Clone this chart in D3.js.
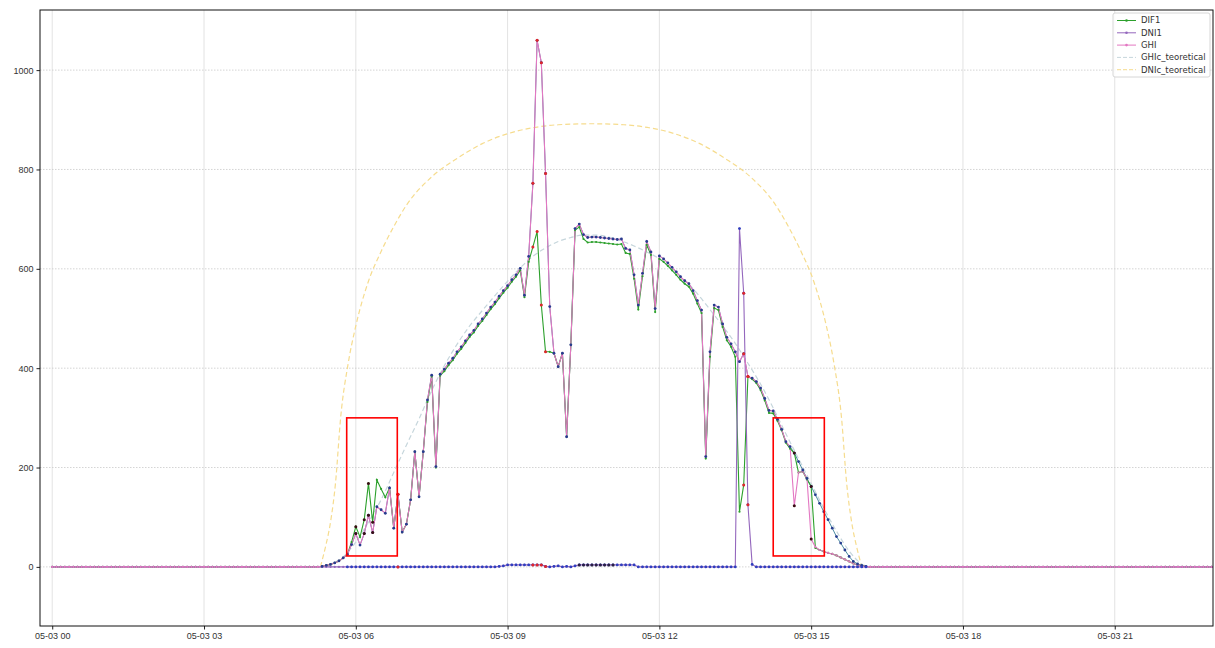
<!DOCTYPE html>
<html>
<meta charset="utf-8">
<style>
  body { margin: 0; background: #fff; }
  svg { font-family: "DejaVu Sans", sans-serif; }
  .grid .gy { stroke: #c9c9c9; stroke-width: 0.8; stroke-dasharray: 1.5,1.5; }
  .grid .gx { stroke: #dcdcdc; stroke-width: 0.8; }
  .axis text { font-size: 9px; fill: #333; }
  .axis line, .axis path { stroke: #222; }
</style>
<body>
<script src="https://d3js.org/d3.v7.min.js"></script>
<script>
  // one sample every 5 minutes from 05:00 (index 0) to 16:40; all sensors read 0 outside
  let dayStartHour = 5;
  let stepMin = 5;

  let ghi = [
    0, 0, 0, 0, 1, 3, 5, 8, 12, 18, 25, 45,
    67, 44, 67, 104, 69, 121, 115, 108, 159,
    78, 146, 70, 86, 135, 232, 141, 232, 336, 386, 202, 388,
    398, 410, 420, 433, 443, 455, 467, 476, 489, 499, 511, 523, 533, 545, 556, 566, 578, 588, 601,
    547, 625, 772, 1060, 1015, 792, 524,
    430, 403, 430, 262, 447, 681, 690, 669,
    663, 664, 664, 663, 662, 661, 660, 659, 660,
    641, 638, 588, 527, 591, 655, 634, 520, 626, 620, 612, 603, 594, 584, 576, 570, 556, 536, 517, 222,
    433, 527, 523, 489, 462, 449, 433, 413, 429, 383, 380, 373, 360, 339, 315, 314, 297, 277,
    252, 242, 123, 190, 192, 178, 56, 40, 34, 31, 28, 26, 23, 19, 15, 11, 7, 4, 2, 1, 0,
    0, 0, 0, 0, 0, 0
  ];

  let dif1 = [
    0, 0, 0, 0, 1, 3, 5, 8, 12, 18, 25, 50,
    81, 60, 95, 168, 90, 175, 157, 140, 159,
    78, 146, 70, 86, 135, 232, 141, 232, 332, 383, 200, 385,
    394, 406, 416, 429, 439, 451, 463, 472, 485, 495, 507, 519, 529, 541, 552, 562, 574, 584, 597,
    543, 614, 644, 675, 527, 433, 433,
    430, 403, 430, 262, 447, 678, 684, 660,
    653, 654, 654, 653, 652, 651, 650, 649, 650,
    632, 630, 580, 518, 585, 648, 628, 513, 620, 614, 606, 597, 588, 578, 570, 564, 550, 530, 511, 218,
    423, 521, 517, 483, 456, 443, 423, 111, 165, 383, 378, 370, 356, 335, 310, 309, 294, 275,
    250, 238, 229, 190, 192, 176, 162, 38, 34, 31, 28, 26, 23, 19, 15, 11, 7, 4, 2, 1, 0,
    0, 0, 0, 0, 0, 0
  ];

  let dni1 = [
    0, 0, 0, 0, 0, 0, 0, 0, 0, 0, 0, 0,
    0, 0, 0, 0, 0, 0, 0, 0, 0,
    0, 0, 0, 0, 0, 0, 0, 0, 0, 0, 0, 0,
    0, 0, 0, 0, 0, 0, 0, 0, 0, 0, 0, 0, 0, 1, 2, 4, 4, 4, 4,
    4, 4, 4, 4, 4, 1, 0,
    1, 2, 0, 1, 0, 2, 4, 4,
    4, 4, 4, 4, 4, 4, 4, 4, 4,
    4, 4, 4, 0, 0, 0, 0, 0, 0, 0, 0, 0, 0, 0, 0, 0, 0, 0, 0, 0,
    0, 0, 0, 0, 0, 0, 0, 681, 551, 125, 5, 0, 0, 0, 0, 0, 0, 0,
    0, 0, 0, 0, 0, 0, 0, 0, 0, 0, 0, 0, 0, 0, 0, 0, 0, 0, 0, 0, 0,
    0, 0, 0, 0, 0, 0
  ];

  // checked GHI (blue dots): same as GHI except from sample 114 (14:30) on
  let ghiFillStart = 114;
  let ghiFill = [252, 242, 229, 212, 195, 178, 162, 145, 128, 111, 95, 78, 61, 48, 34, 21, 11, 6, 3, 1, 0];

  // quality flags (sample indexes)
  let redFlags = [22, 54, 55, 56, 57, 104, 105];
  let darkFlags = [12, 14, 15, 16, 116, 120];
  let darkDniFlags = [65, 66, 67, 68, 69, 70, 71, 72, 73];

  // theoretical clear sky curves, hour of day -> W/m2
  let ghicHours = [5.3, 5.5, 5.75, 6, 6.25, 6.5, 6.75, 7, 7.25, 7.5, 7.75, 8, 8.25, 8.5, 8.75, 9, 9.25, 9.5, 9.75, 10,
    10.25, 10.5, 10.75, 11, 11.25, 11.5, 11.75, 12, 12.25, 12.5, 12.75, 13, 13.25, 13.5, 13.75, 14, 14.25, 14.5,
    14.75, 15, 15.25, 15.5, 15.75, 16, 16.15];
  let ghicValues = [0, 6, 20, 50, 90, 135, 190, 245, 298, 355, 405, 448, 485, 516, 546, 575, 602, 625, 642, 655,
    663, 668, 668, 664, 656, 646, 634, 620, 600, 578, 550, 518, 485, 450, 410, 368, 320, 268,
    218, 168, 118, 72, 32, 6, 0];

  let dnicHours = [5.3, 5.4, 5.5, 5.6, 5.7, 5.85, 6, 6.25, 6.5, 6.75, 7, 7.5, 8, 8.5, 9, 9.5, 10, 10.65,
    11.3, 11.8, 12.3, 12.8, 13.3, 13.8, 14.3, 14.55, 14.8, 15.05, 15.3, 15.45, 15.6, 15.7, 15.8, 15.9, 16];
  let dnicValues = [0, 40, 90, 170, 300, 410, 485, 575, 635, 685, 728, 785, 822, 852, 872, 884, 890, 892,
    890, 884, 872, 852, 822, 785, 728, 685, 635, 575, 485, 410, 300, 170, 90, 40, 0];

  // highlighted periods (hours) and value band
  let boxHours = [[5.82, 6.82], [14.25, 15.26]];
  let boxValues = [22, 300];

  let yTicks = [0, 200, 400, 600, 800, 1000];
  let xTickHours = [0, 3, 6, 9, 12, 15, 18, 21];

  let width = 1215, height = 648;
  let day0 = new Date(2021, 4, 3);
  let atHour = h => new Date(day0.getTime() + h * 3600e3);

  let x = d3.scaleTime()
    .domain([atHour(-0.2417), atHour(22.942)])
    .range([40, 1213]);
  let y = d3.scaleLinear()
    .domain([-119, 1121])
    .range([626, 10]);

  let svg = d3.select("body").append("svg")
    .attr("width", width)
    .attr("height", height);

  svg.append("defs").append("clipPath").attr("id", "plot")
    .append("rect").attr("x", 40).attr("y", 10).attr("width", 1173).attr("height", 616);

  // grid
  let grid = svg.append("g").attr("class", "grid");
  grid.selectAll(".gx").data(xTickHours).join("line").attr("class", "gx")
    .attr("x1", d => x(atHour(d))).attr("x2", d => x(atHour(d)))
    .attr("y1", 10).attr("y2", 626);
  grid.selectAll(".gy").data(yTicks).join("line").attr("class", "gy")
    .attr("x1", 40).attr("x2", 1213)
    .attr("y1", d => y(d)).attr("y2", d => y(d));

  // build the full day of samples (night = 0)
  let first = dayStartHour * 60 / stepMin;
  let samples = d3.range(0, 24 * 60 / stepMin).map(k => {
    let j = k - first;
    let pick = arr => (j >= 0 && j < arr.length) ? arr[j] : 0;
    let fill = (j >= ghiFillStart && j < ghiFillStart + ghiFill.length) ? ghiFill[j - ghiFillStart] : pick(ghi);
    return { t: atHour(k * stepMin / 60), j: j, ghi: pick(ghi), dif1: pick(dif1), dni1: pick(dni1), qc: fill };
  });
  let daySamples = samples.filter(d => d.j >= 4 && d.j <= 133);

  let plot = svg.append("g").attr("clip-path", "url(#plot)");

  let lineOf = key => d3.line().x(d => x(d.t)).y(d => y(d[key]));
  let curveLine = d3.line().curve(d3.curveMonotoneX).x(d => x(atHour(d[0]))).y(d => y(d[1]));

  let ghicColor = "#c6d6dc", dnicColor = "#f6dc8e";

  plot.append("path")
    .datum(d3.zip(ghicHours, ghicValues))
    .attr("d", curveLine)
    .attr("fill", "none").attr("stroke", ghicColor).attr("stroke-width", 1.2)
    .attr("stroke-dasharray", "5,3");
  plot.append("path")
    .datum(d3.zip(dnicHours, dnicValues))
    .attr("d", curveLine)
    .attr("fill", "none").attr("stroke", dnicColor).attr("stroke-width", 1.2)
    .attr("stroke-dasharray", "5,3");

  // checked GHI line under the measured ones
  plot.append("path").datum(daySamples).attr("d", lineOf("qc"))
    .attr("fill", "none").attr("stroke", "#4b8aa3").attr("stroke-width", 1);

  let series = [
    { key: "dif1", name: "DIF1", color: "#2ca02c" },
    { key: "dni1", name: "DNI1", color: "#9467bd" },
    { key: "ghi", name: "GHI", color: "#e377c2" }
  ];

  series.forEach(s => {
    plot.append("path").datum(samples).attr("d", lineOf(s.key))
      .attr("fill", "none").attr("stroke", s.color).attr("stroke-width", 1.1);
  });
  series.forEach(s => {
    plot.append("g").selectAll("circle").data(samples).join("circle")
      .attr("cx", d => x(d.t)).attr("cy", d => y(d[s.key]))
      .attr("r", 1.1).attr("fill", s.color);
  });

  // quality-check markers
  let okColor = "#2f3fbf";
  plot.append("g").selectAll("circle").data(daySamples).join("circle")
    .attr("cx", d => x(d.t)).attr("cy", d => y(d.qc))
    .attr("r", 1.4).attr("fill", "#263c8f");
  plot.append("g").selectAll("circle").data(daySamples.filter(d => d.j >= 10)).join("circle")
    .attr("cx", d => x(d.t)).attr("cy", d => y(d.dni1))
    .attr("r", 1.4).attr("fill", okColor);

  let flagged = (idx, color, keys) => {
    let pts = samples.filter(d => idx.includes(d.j));
    keys.forEach(key => {
      plot.append("g").selectAll("circle").data(pts).join("circle")
        .attr("cx", d => x(d.t)).attr("cy", d => y(d[key]))
        .attr("r", 1.5).attr("fill", color);
    });
  };
  flagged(redFlags, "#e0262b", ["ghi", "dif1", "dni1"]);
  flagged(darkFlags, "#3a0d14", ["ghi", "dif1"]);
  flagged(darkDniFlags, "#2a2040", ["dni1"]);

  // red boxes
  svg.append("g").selectAll("rect").data(boxHours).join("rect")
    .attr("x", d => x(atHour(d[0])))
    .attr("y", y(boxValues[1]))
    .attr("width", d => x(atHour(d[1])) - x(atHour(d[0])))
    .attr("height", y(boxValues[0]) - y(boxValues[1]))
    .attr("fill", "none").attr("stroke", "#ff0000").attr("stroke-width", 1.6);

  // axes
  svg.append("g").attr("class", "axis")
    .attr("transform", "translate(0,626)")
    .call(d3.axisBottom(x).tickValues(xTickHours.map(atHour))
      .tickFormat(d3.timeFormat("%m-%d %H")).tickSizeOuter(0).tickSize(3.5))
    .call(g => g.select(".domain").remove());
  svg.append("g").attr("class", "axis")
    .attr("transform", "translate(40,0)")
    .call(d3.axisLeft(y).tickValues(yTicks).tickFormat(d3.format("d")).tickSizeOuter(0).tickSize(3.5))
    .call(g => g.select(".domain").remove());

  svg.append("rect")
    .attr("x", 40).attr("y", 10).attr("width", 1173).attr("height", 616)
    .attr("fill", "none").attr("stroke", "#111").attr("stroke-width", 1);

  // legend
  let legendItems = [
    { name: "DIF1", color: "#2ca02c", dash: null, dot: true },
    { name: "DNI1", color: "#9467bd", dash: null, dot: true },
    { name: "GHI", color: "#e377c2", dash: null, dot: true },
    { name: "GHIc_teoretical", color: ghicColor, dash: "4,2", dot: false },
    { name: "DNIc_teoretical", color: dnicColor, dash: "4,2", dot: false }
  ];
  let legend = svg.append("g").attr("transform", "translate(1113,13)");
  legend.append("rect").attr("width", 97).attr("height", 64).attr("rx", 2)
    .attr("fill", "#fff").attr("fill-opacity", 0.85).attr("stroke", "#d6d6d6");
  let li = legend.selectAll(".item").data(legendItems).join("g")
    .attr("transform", (d, i) => `translate(0,${7.5 + i * 12.3})`);
  li.append("line").attr("x1", 4).attr("x2", 23)
    .attr("stroke", d => d.color).attr("stroke-width", 1)
    .attr("stroke-dasharray", d => d.dash);
  li.filter(d => d.dot).append("circle").attr("cx", 13.5).attr("r", 1.3).attr("fill", d => d.color);
  li.append("text").attr("x", 28).attr("dy", "0.35em")
    .attr("font-size", 8.5).attr("fill", "#333").text(d => d.name);
</script>
</body>
</html>
